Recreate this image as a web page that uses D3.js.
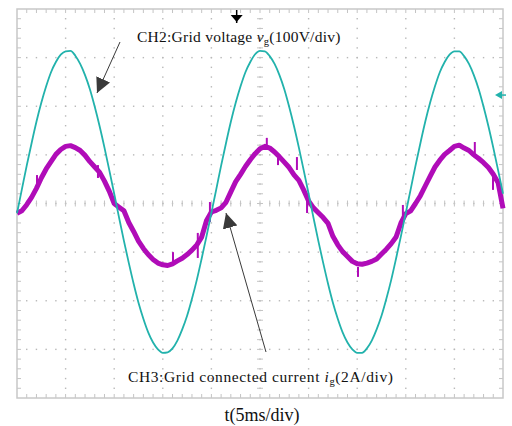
<!DOCTYPE html>
<meta charset="utf-8">
<script src="https://d3js.org/d3.v7.min.js"></script>
<style>
  body { margin: 0; background: #fff; }
  text { font-family: "Liberation Serif", "Times New Roman", serif; fill: #111; }
</style>
<body>
<div id="scope"></div>
<script>

// time base, ms (0.5 ms per sample, 10 div x 5 ms)
var timeMs = d3.range(0, 50.01, 0.5);

// CH2 grid voltage vg (V), 100 V/div
var voltage = [
  -20, 29, 78, 124, 168, 207, 241, 270, 291, 306,
  313, 314, 304, 287, 264, 235, 199, 159, 115, 68,
  20, -29, -77, -122, -165, -204, -237, -265, -286, -300,
  -307, -306, -298, -282, -259, -231, -196, -157, -113, -67,
  -19, 29, 78, 124, 168, 207, 241, 270, 291, 307,
  314, 313, 303, 287, 264, 235, 199, 159, 115, 68,
  20, -29, -77, -122, -165, -204, -237, -265, -286, -300,
  -307, -307, -298, -282, -259, -231, -196, -157, -113, -67,
  -19, 29, 78, 124, 168, 207, 241, 270, 291, 306,
  313, 313, 303, 287, 264, 235, 199, 159, 115, 68,
  20
];

// CH3 grid connected current ig (A), 2 A/div
var current = [
  -0.40, -0.30, -0.05, 0.25, 0.62, 1.05, 1.42, 1.72, 2.02, 2.22,
  2.35, 2.38, 2.30, 2.18, 1.98, 1.72, 1.50, 1.28, 0.92, 0.50,
  0.00, -0.15, -0.30, -0.78, -1.15, -1.55, -1.85, -2.10, -2.30, -2.45,
  -2.52, -2.55, -2.48, -2.36, -2.25, -2.10, -1.92, -1.70, -1.38, -0.70,
  -0.35, -0.28, -0.18, 0.05, 0.48, 0.90, 1.20, 1.52, 1.80, 2.05,
  2.25, 2.35, 2.28, 2.12, 1.92, 1.70, 1.48, 1.18, 0.95, 0.55,
  0.10, -0.18, -0.38, -0.58, -0.82, -1.35, -1.70, -1.98, -2.18, -2.38,
  -2.48, -2.50, -2.45, -2.38, -2.28, -2.08, -1.88, -1.65, -1.38, -0.80,
  -0.42, -0.30, 0.00, 0.32, 0.72, 1.12, 1.50, 1.78, 2.02, 2.18,
  2.35, 2.40, 2.28, 2.18, 2.00, 1.85, 1.68, 1.48, 1.20, 0.85,
  -0.20
];

// noise spikes on the current trace: time (ms), from (A), to (A)
var spikeTime = [2.06, 8.33, 16.05, 18.6, 19.85, 25.7, 26.85, 28.8, 29.84, 35.08, 39.7, 47.1, 48.97];
var spikeFrom = [1.17, 1.58, -2.0, -1.21, 0.06, 2.7, 2.0, 1.91, 0.27, -2.61, -0.06, 2.53, 1.17];
var spikeTo   = [0.76, 1.05, -2.41, -2.24, -0.76, 2.2, 1.58, 1.38, -0.39, -3.02, -0.68, 1.87, 0.56];

var W = 512, H = 426;
var box = { left: 17, top: 9, right: 503, bottom: 398 };

var svg = d3.select("#scope")
  .append("svg")
    .attr("width", W)
    .attr("height", H);

var x = d3.scaleLinear().domain([0, 50]).range([box.left, box.right]);
var yV = d3.scaleLinear().domain([-400, 400]).range([box.bottom, box.top]);
var yI = d3.scaleLinear().domain([-8, 8]).range([box.bottom, box.top]);

// ---- graticule ----
var grid = svg.append("g");
var majT = d3.range(5, 50, 5), minT = d3.range(1, 50, 1);
var majV = d3.range(-300, 301, 100), minV = d3.range(-380, 381, 20);

// dotted grid lines (a dot at every minor division)
majT.forEach(function(t) {
  grid.selectAll(null).data(minV).enter().append("rect")
    .attr("x", x(t) - 0.7).attr("y", function(v) { return yV(v) - 0.7; })
    .attr("width", 1.4).attr("height", 1.4).attr("fill", "#b8b8b8");
});
majV.forEach(function(v) {
  grid.selectAll(null).data(minT).enter().append("rect")
    .attr("x", function(t) { return x(t) - 0.7; }).attr("y", yV(v) - 0.7)
    .attr("width", 1.4).attr("height", 1.4).attr("fill", "#b8b8b8");
});

// centre axes ticks
grid.selectAll(null).data(minT).enter().append("line")
  .attr("x1", function(t) { return x(t); }).attr("x2", function(t) { return x(t); })
  .attr("y1", yV(0) - 3).attr("y2", yV(0) + 3)
  .attr("stroke", "#c4c4c4").attr("stroke-width", 1);
grid.selectAll(null).data(minV).enter().append("line")
  .attr("y1", function(v) { return yV(v); }).attr("y2", function(v) { return yV(v); })
  .attr("x1", x(25) - 3).attr("x2", x(25) + 3)
  .attr("stroke", "#c4c4c4").attr("stroke-width", 1);

// border ticks
grid.selectAll(null).data(minT).enter().append("line")
  .attr("x1", function(t) { return x(t); }).attr("x2", function(t) { return x(t); })
  .attr("y1", box.top).attr("y2", box.top + 4)
  .attr("stroke", "#c4c4c4");
grid.selectAll(null).data(minT).enter().append("line")
  .attr("x1", function(t) { return x(t); }).attr("x2", function(t) { return x(t); })
  .attr("y1", box.bottom).attr("y2", box.bottom - 4)
  .attr("stroke", "#c4c4c4");
grid.selectAll(null).data(minV).enter().append("line")
  .attr("y1", function(v) { return yV(v); }).attr("y2", function(v) { return yV(v); })
  .attr("x1", box.left).attr("x2", box.left + 4)
  .attr("stroke", "#c4c4c4");
grid.selectAll(null).data(minV).enter().append("line")
  .attr("y1", function(v) { return yV(v); }).attr("y2", function(v) { return yV(v); })
  .attr("x1", box.right).attr("x2", box.right - 4)
  .attr("stroke", "#c4c4c4");

grid.append("rect")
  .attr("x", box.left).attr("y", box.top)
  .attr("width", box.right - box.left).attr("height", box.bottom - box.top)
  .attr("fill", "none").attr("stroke", "#c8c8c8").attr("stroke-width", 1.5);

// ---- traces ----
var vLine = d3.line()
  .x(function(d, i) { return x(timeMs[i]); })
  .y(function(d) { return yV(d); })
  .curve(d3.curveMonotoneX);

var iLine = d3.line()
  .x(function(d, i) { return x(timeMs[i]); })
  .y(function(d) { return yI(d); });

svg.append("path")
  .datum(current)
  .attr("d", iLine)
  .attr("fill", "none")
  .attr("stroke", "#b00cb8")
  .attr("stroke-width", 5)
  .attr("stroke-linejoin", "round");

svg.selectAll(".spike")
  .data(spikeTime)
  .enter()
  .append("line")
    .attr("x1", function(d) { return x(d); })
    .attr("x2", function(d) { return x(d); })
    .attr("y1", function(d, i) { return yI(spikeFrom[i]); })
    .attr("y2", function(d, i) { return yI(spikeTo[i]); })
    .attr("stroke", "#b00cb8")
    .attr("stroke-width", 2);

svg.append("path")
  .datum(voltage)
  .attr("d", vLine)
  .attr("fill", "none")
  .attr("stroke", "#22b2ac")
  .attr("stroke-width", 1.8);

// ---- markers ----
// trigger position
var trigX = x(22.6);
svg.append("line").attr("x1", trigX).attr("x2", trigX)
  .attr("y1", box.top + 1).attr("y2", box.top + 14)
  .attr("stroke", "#000").attr("stroke-width", 1.5);
svg.append("path")
  .attr("d", "M" + (trigX - 6) + "," + (box.top + 6) + "L" + (trigX + 6) + "," + (box.top + 6) +
             "L" + trigX + "," + (box.top + 13) + "Z")
  .attr("fill", "#000");

// CH2 level marker
var lvlY = yV(223);
svg.append("line").attr("x1", box.right - 6).attr("x2", box.right + 3)
  .attr("y1", lvlY).attr("y2", lvlY)
  .attr("stroke", "#22b2ac").attr("stroke-width", 1.5);
svg.append("path")
  .attr("d", "M" + (box.right - 8) + "," + lvlY + "L" + (box.right - 1) + "," + (lvlY - 4) +
             "L" + (box.right - 1) + "," + (lvlY + 4) + "Z")
  .attr("fill", "#22b2ac");

// ---- annotations ----
svg.append("defs").append("marker")
  .attr("id", "head")
  .attr("viewBox", "0 0 10 10")
  .attr("refX", 10).attr("refY", 5)
  .attr("markerWidth", 15).attr("markerHeight", 15)
  .attr("markerUnits", "userSpaceOnUse")
  .attr("orient", "auto")
  .append("path")
    .attr("d", "M0,0L10,5L0,10Z")
    .attr("fill", "#3a3a3a");

function arrow(x1, y1, x2, y2) {
  svg.append("line")
    .attr("x1", x1).attr("y1", y1).attr("x2", x2).attr("y2", y2)
    .attr("stroke", "#3a3a3a").attr("stroke-width", 1)
    .attr("marker-end", "url(#head)");
}

arrow(120, 42, 97, 93);
arrow(266, 352, 226, 213);

var t1 = svg.append("text").attr("x", 137).attr("y", 42)
  .attr("font-size", 15.5).attr("letter-spacing", 0.25);
t1.append("tspan").text("CH2:Grid voltage ");
t1.append("tspan").attr("font-style", "italic").text("v");
t1.append("tspan").attr("font-size", 10.5).attr("dy", 3).text("g");
t1.append("tspan").attr("dy", -3).text("(100V/div)");

var t2 = svg.append("text").attr("x", 128).attr("y", 382)
  .attr("font-size", 15.5).attr("letter-spacing", 0.6);
t2.append("tspan").text("CH3:Grid connected current ");
t2.append("tspan").attr("font-style", "italic").text("i");
t2.append("tspan").attr("font-size", 10.5).attr("dy", 3).text("g");
t2.append("tspan").attr("dy", -3).text("(2A/div)");

svg.append("text")
  .attr("x", x(25.2)).attr("y", 421)
  .attr("text-anchor", "middle")
  .attr("font-size", 18)
  .text("t(5ms/div)");

</script>
</body>
